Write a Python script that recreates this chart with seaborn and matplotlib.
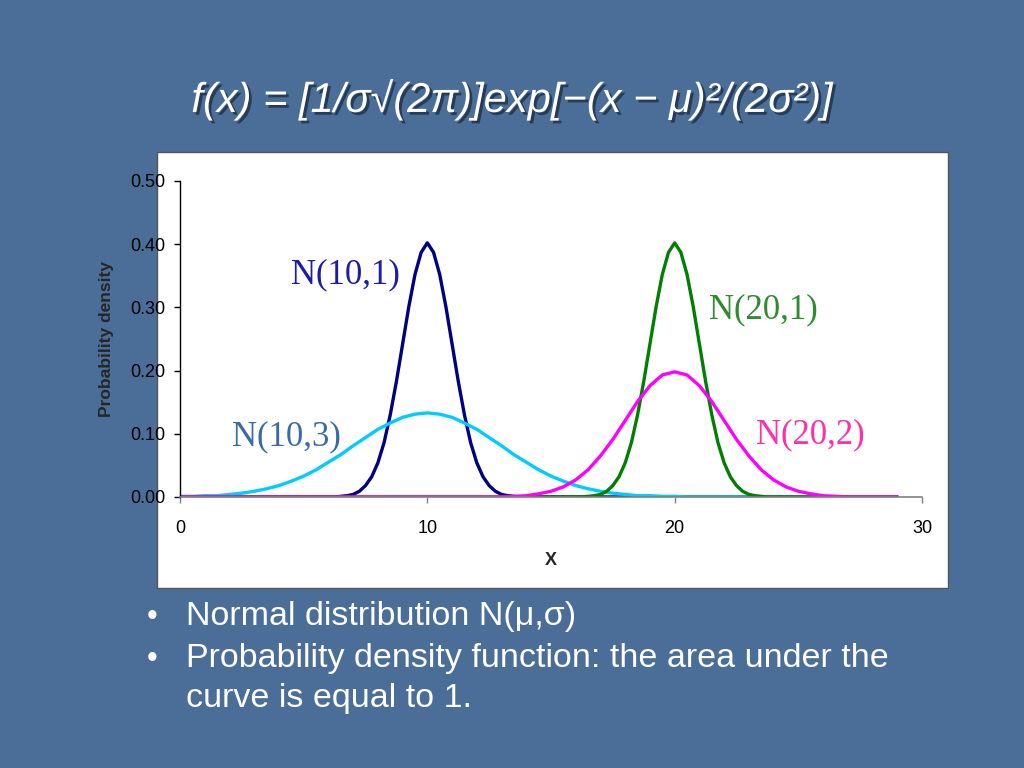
import pandas as pd
import matplotlib.pyplot as plt
import matplotlib.patheffects as pe
from matplotlib.patches import Rectangle
import seaborn as sns

# grids: 0.25 step for the narrow curves, 0.5 step for the wide ones (0 .. 29)
x_fine = [i * 0.25 for i in range(117)]
x_coarse = [i * 0.5 for i in range(59)]

# densities
peak_1 = [0.001, 0.002, 0.004, 0.009, 0.018, 0.032, 0.054, 0.086, 0.130, 0.183,
          0.242, 0.301, 0.352, 0.387, 0.402, 0.387, 0.352, 0.301, 0.242, 0.183,
          0.130, 0.086, 0.054, 0.032, 0.018, 0.009, 0.004, 0.002, 0.001]
n10_1 = [0.0] * 26 + peak_1 + [0.0] * 62
n20_1 = [0.0] * 66 + peak_1 + [0.0] * 22
n10_3 = [0.001, 0.001, 0.002, 0.002, 0.004, 0.006, 0.009, 0.013, 0.018, 0.025,
         0.033, 0.043, 0.055, 0.067, 0.081, 0.094, 0.107, 0.117, 0.126, 0.131,
         0.133, 0.131, 0.126, 0.117, 0.107, 0.094, 0.081, 0.067, 0.055, 0.043,
         0.033, 0.025, 0.018, 0.013, 0.009, 0.006, 0.004, 0.002, 0.002, 0.001,
         0.001, 0.0, 0.0] + [0.0] * 16
n20_2 = [0.0] * 25 + [0.0, 0.0, 0.001, 0.002, 0.005, 0.009, 0.016, 0.027, 0.043,
                      0.065, 0.091, 0.121, 0.151, 0.176, 0.193, 0.198, 0.193,
                      0.176, 0.151, 0.121, 0.091, 0.065, 0.043, 0.027, 0.016,
                      0.009, 0.005, 0.002, 0.001, 0.0, 0.0, 0.0, 0.0, 0.0]

series = ["N(10,1)", "N(10,3)", "N(20,1)", "N(20,2)"]
line_colors = ["#000080", "#00CCFF", "#008000", "#FF00FF"]
label_colors = ["#1C1CA8", "#3A6BA5", "#2E8B2E", "#FF2FA8"]
label_pos = [(4.5, 0.352), (2.1, 0.095), (21.4, 0.296), (23.3, 0.098)]

long = pd.concat([
    pd.DataFrame({"x": x_fine, "density": n10_1, "series": "N(10,1)"}),
    pd.DataFrame({"x": x_coarse, "density": n10_3, "series": "N(10,3)"}),
    pd.DataFrame({"x": x_fine, "density": n20_1, "series": "N(20,1)"}),
    pd.DataFrame({"x": x_coarse, "density": n20_2, "series": "N(20,2)"}),
], ignore_index=True)

sns.set_style("white")
plt.rcParams["font.family"] = ["Liberation Sans", "DejaVu Sans"]

bg = "#4A6E98"
fig = plt.figure(figsize=(10.24, 7.68), dpi=100, facecolor=bg)

# white chart box, behind the axes
fig.patches.append(Rectangle((0.1533, 0.2344), 0.7725, 0.5677, transform=fig.transFigure,
                             facecolor="white", edgecolor="#555555", linewidth=1, zorder=-10))

ax = fig.add_axes([0.1758, 0.3529, 0.7246, 0.4115])
ax.set_zorder(5)
ax.patch.set_visible(False)
sns.lineplot(data=long, x="x", y="density", hue="series", hue_order=series,
             palette=line_colors, linewidth=2.4, legend=False, ax=ax)

ax.set_xlim(0, 30)
ax.set_ylim(0, 0.5)
ax.set_xticks([0, 10, 20, 30])
ax.set_yticks([0, 0.1, 0.2, 0.3, 0.4, 0.5])
ax.set_yticklabels([f"{v:.2f}" for v in ax.get_yticks()])
ax.tick_params(axis="both", direction="out", length=4.5, width=1, labelsize=13,
               colors="black", left=True, bottom=True, pad=6)
ax.tick_params(axis="x", pad=12, color="#808080")
for s in ["top", "right"]:
    ax.spines[s].set_visible(False)
ax.spines["left"].set_color("black")
ax.spines["bottom"].set_color("#808080")
ax.spines["left"].set_linewidth(1)
ax.spines["bottom"].set_linewidth(1.2)
ax.set_xlabel("X", fontsize=13, fontweight="bold", labelpad=11)
ax.set_ylabel("Probability density", fontsize=12.5, fontweight="bold", labelpad=12)

for name, c, (lx, ly) in zip(series, label_colors, label_pos):
    ax.text(lx, ly, name, color=c, fontsize=25, family="Liberation Serif",
            va="center", ha="left")

# slide title
fig.text(0.5, 0.87, "f(x) = [1/σ√(2π)]exp[−(x − μ)²/(2σ²)]", color="white",
         fontsize=30, style="italic", ha="center", va="center",
         path_effects=[pe.withSimplePatchShadow(offset=(2, -2), shadow_rgbFace="#1d2f45", alpha=0.8)])

# bullets
bullets = ["Normal distribution N(μ,σ)",
           "Probability density function: the area under the"]
for i, b in enumerate(bullets):
    y = 1 - (617 + 42 * i) / 768
    fig.text(147 / 1024, y, "•", color="white", fontsize=22, va="center")
    fig.text(186 / 1024, y, b, color="white", fontsize=24.5, va="center")
fig.text(186 / 1024, 1 - 699 / 768, "curve is equal to 1.", color="white",
         fontsize=24.5, va="center")

fig.savefig("out.png", dpi=100, facecolor=bg)
